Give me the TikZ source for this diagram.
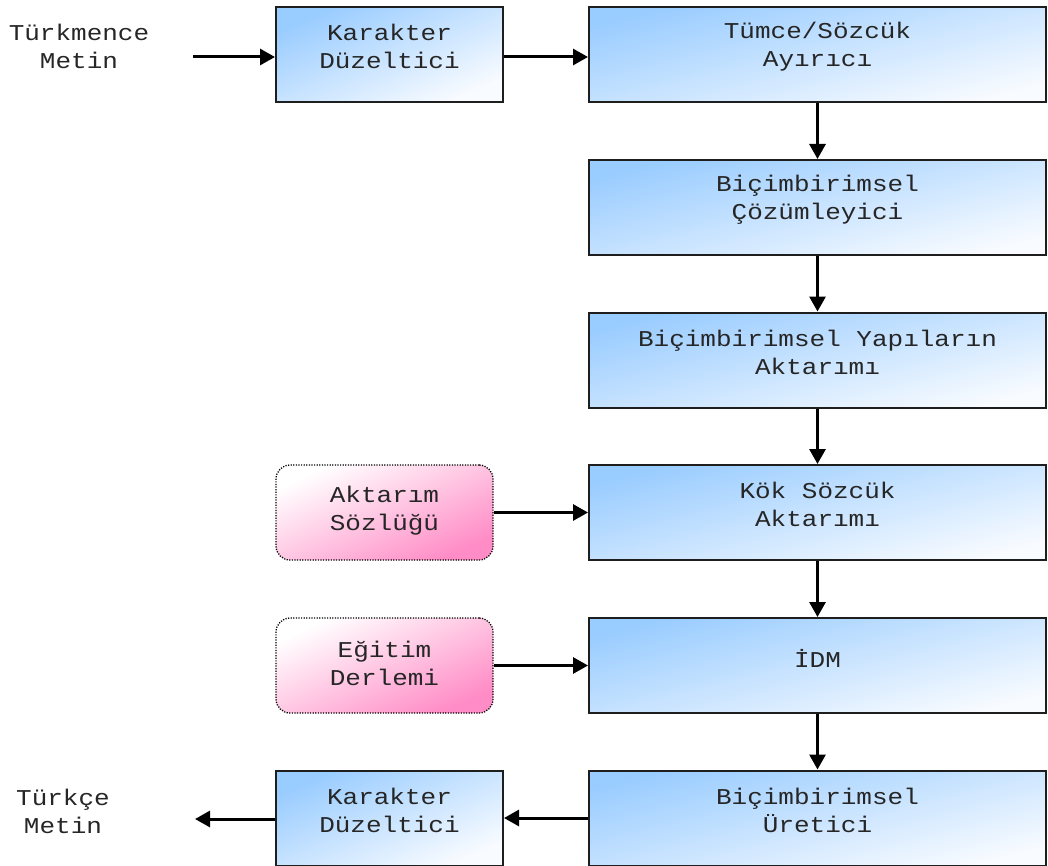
\documentclass[tikz,border=0pt]{standalone}
\usepackage{fontspec}
\setmonofont{Liberation Mono}
\usetikzlibrary{arrows.meta,calc}

\definecolor{boxblue}{HTML}{99CCFF}
\definecolor{boxpale}{HTML}{F8FBFF}
\definecolor{notepink}{HTML}{FF8CC6}
\definecolor{edge}{HTML}{1E1E1E}

% slightly flattened monospace lines
\newcommand\sq[1]{\scalebox{1}[0.87]{#1}}

\begin{document}
\begin{tikzpicture}[x=1pt,y=-1pt,
  every node/.style={font=\ttfamily\fontsize{26}{28}\selectfont},
  stage/.style={draw=edge, line width=2pt, minimum height=95pt, inner sep=0pt},
  wide/.style={stage, minimum width=457pt,
    top color=boxblue, bottom color=boxpale, shading angle=14},
  narrow/.style={stage, minimum width=227pt,
    top color=boxblue, bottom color=boxpale, shading angle=24},
  source/.style={draw=black, dash pattern=on 1.2pt off 1.4pt, line width=1.3pt,
    rounded corners=14pt, top color=white, bottom color=notepink, shading angle=25,
    minimum width=217pt, minimum height=95pt, inner sep=0pt},
  txt/.style={align=center, inner sep=0pt, text=black!85},
  flow/.style={line width=3pt, -{Triangle[length=15pt,width=16pt]}}
]
\useasboundingbox (0,0) rectangle (1048,866);

% processing stages
\node[narrow] (kd1) at (389.5,54.5) {};
\node[wide]   (ta)  at (817.5,54.5) {};
\node[wide]   (bc)  at (817.5,207.5) {};
\node[wide]   (ya)  at (817.5,360) {};
\node[wide]   (ks)  at (817.5,512.5) {};
\node[wide]   (idm) at (817.5,665.5) {};
\node[wide]   (bu)  at (817.5,818) {};
\node[narrow] (kd2) at (389.5,818) {};

% resources
\node[source] (as) at (384.5,512.5) {};
\node[source] (ed) at (384.5,665.5) {};

% stage labels
\node[txt] (kd1t) at ([yshift=8pt]kd1.center) {\sq{Karakter}\\\sq{Düzeltici}};
\node[txt] (tat)  at ([yshift=8pt]ta.center)  {\sq{Tümce/Sözcük}\\\sq{Ayırıcı}};
\node[txt] (bct)  at ([yshift=8pt]bc.center)  {\sq{Biçimbirimsel}\\\sq{Çözümleyici}};
\node[txt] (yat)  at ([yshift=8pt]ya.center)  {\sq{Biçimbirimsel Yapıların}\\\sq{Aktarımı}};
\node[txt] (kst)  at ([yshift=8pt]ks.center)  {\sq{Kök Sözcük}\\\sq{Aktarımı}};
\node[txt] (idmt) at ([yshift=7pt]idm.center) {\sq{İDM}};
\node[txt] (but)  at ([yshift=8pt]bu.center)  {\sq{Biçimbirimsel}\\\sq{Üretici}};
\node[txt] (kd2t) at ([yshift=8pt]kd2.center) {\sq{Karakter}\\\sq{Düzeltici}};
\node[txt] (ast)  at ([yshift=2pt]as.center)  {\sq{Aktarım}\\\sq{Sözlüğü}};
\node[txt] (edt)  at ([yshift=2pt]ed.center)  {\sq{Eğitim}\\\sq{Derlemi}};

% input and output text
\node[txt] (src) at (79,46)  {\sq{Türkmence}\\\sq{Metin}};
\node[txt] (dst) at (63,811) {\sq{Türkçe}\\\sq{Metin}};
\coordinate (in)  at (193,57);
\coordinate (out) at (195,819);

% connectors
\draw[flow] (in) -- (in -| kd1.west);
\draw[flow] (kd1.east |- in) -- (in -| ta.west);
\draw[flow] (ta) -- (bc);
\draw[flow] (bc) -- (ya);
\draw[flow] (ya) -- (ks);
\draw[flow] (ks) -- (idm);
\draw[flow] (idm) -- (bu);
\draw[flow] (as) -- (ks);
\draw[flow] (ed) -- (idm);
\draw[flow] (bu) -- (kd2);
\draw[flow] (kd2.west |- out) -- (out);
\end{tikzpicture}
\end{document}
